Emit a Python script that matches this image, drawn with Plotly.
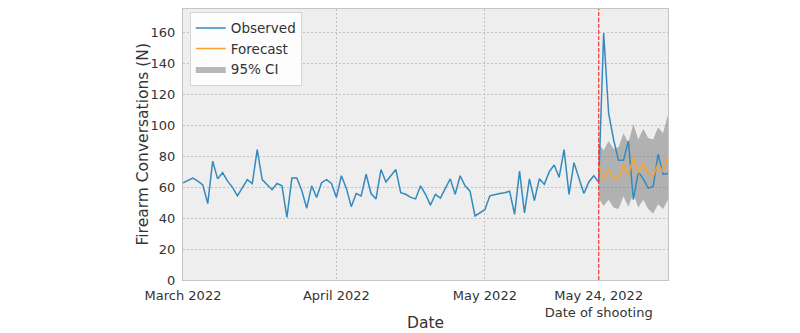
import pandas as pd
import plotly.graph_objects as go

# Daily firearm-related conversation counts, 1 March - 7 June 2022
start_date = "2022-03-01"
observed = [
    63, 64.5, 66, 64, 61.5, 49.5, 77, 65.5, 69.5, 64,
    60, 54.5, 59.5, 65, 62.5, 84.5, 65, 61.5, 58.5, 62.5,
    61, 40.5, 66, 66, 58, 46.5, 61, 53.5, 63, 65,
    62.5, 53.5, 67.5, 59.5, 47.5, 56, 54.5, 68.5, 56, 52.5,
    71.5, 63.5, 67.5, 71.5, 56.5, 55.5, 53.5, 52.5, 61, 55.5,
    48.5, 55.5, 53, 59.5, 65.5, 55.5, 67.5, 61, 57.5, 41.5,
    43.5, 45.5, 54.5, 55.5, 56, 56.5, 57.5, 42.5, 70.5, 43.5,
    65.5, 51.5, 65.5, 62, 70, 74.5, 66.5, 84.5, 55.5, 76,
    66, 56, 63.5, 67.5, 63.5, 160, 108, 91, 77.5, 77.5,
    90, 52, 70, 65.5, 59.5, 60.5, 81.5, 68.5, 69,
]

# Counterfactual forecast from the shooting date onward, with 95% interval
forecast_start = "2022-05-24"
forecast = [74, 65.5, 71, 66, 65.5, 75, 68, 79.5, 69, 75.5, 69, 67, 75.3, 70, 80.5]
ci_lower = [53, 48, 52, 47, 46, 54, 47.5, 56, 47, 52, 46, 43, 49, 46, 52]
ci_upper = [88, 84, 90, 85, 86, 95, 89, 101, 91, 98, 92, 91, 99, 95, 107]

tick_dates = ["2022-03-01", "2022-04-01", "2022-05-01", "2022-05-24"]
tick_labels = ["March 2022", "April 2022", "May 2022", "May 24, 2022<br>Date of shooting"]
y_ticks = [0, 20, 40, 60, 80, 100, 120, 140, 160]

obs_dates = pd.date_range(start_date, periods=len(observed), freq="D")
fc_dates = pd.date_range(forecast_start, periods=len(forecast), freq="D")

BLUE = "#348ABD"
ORANGE = "#f9a231"
FONT = "DejaVu Sans"
GRID = dict(showgrid=True, gridcolor="#c2c2c2", gridwidth=0.7, griddash="2px,2px")
FRAME = dict(showline=True, linecolor="#c4c4c4", linewidth=1.3, mirror=True, zeroline=False)

fig = go.Figure()

# 95% interval band
fig.add_trace(go.Scatter(
    x=fc_dates, y=ci_lower, mode="lines", line=dict(width=0, color="rgba(0,0,0,0)"),
    showlegend=False, hoverinfo="skip",
))
fig.add_trace(go.Scatter(
    x=fc_dates, y=ci_upper, mode="lines", line=dict(width=0, color="rgba(0,0,0,0)"),
    fill="tonexty", fillcolor="rgba(128,128,128,0.55)", name="95% CI", legendrank=3,
))
fig.add_trace(go.Scatter(
    x=obs_dates, y=observed, mode="lines", line=dict(color=BLUE, width=1.5),
    name="Observed", legendrank=1,
))
fig.add_trace(go.Scatter(
    x=fc_dates, y=forecast, mode="lines", line=dict(color=ORANGE, width=1.5),
    name="Forecast", legendrank=2,
))

# Date of the shooting
fig.add_shape(
    type="line", xref="x", yref="paper", x0=forecast_start, x1=forecast_start, y0=0, y1=1,
    line=dict(color="#ff3333", width=1.2, dash="4px,2px"),
)

fig.update_layout(
    width=800, height=333,
    margin=dict(l=183, r=132, t=9, b=53),
    paper_bgcolor="white",
    plot_bgcolor="#eeeeee",
    font=dict(family=FONT, size=13, color="#333333"),
    showlegend=True,
    legend=dict(
        x=0.014, y=0.99, xanchor="left", yanchor="top",
        traceorder="normal",
        bgcolor="rgba(255,255,255,0.85)", bordercolor="#d4d4d4", borderwidth=1,
        font=dict(family=FONT, size=13.5, color="#333333"),
        itemwidth=30, tracegroupgap=0,
    ),
    annotations=[
        dict(text="Firearm Conversations (N)", xref="paper", yref="paper",
             x=-(183 - 142) / 485, y=0.5, xanchor="center", yanchor="middle",
             textangle=-90, showarrow=False, font=dict(family=FONT, size=15.5, color="#333333")),
        dict(text="Date", xref="paper", yref="paper",
             x=0.5, y=-(323 - 280) / 271, xanchor="center", yanchor="middle",
             showarrow=False, font=dict(family=FONT, size=15.5, color="#333333")),
    ],
)

fig.update_xaxes(
    type="date",
    range=["2022-03-01", "2022-06-07"],
    tickvals=tick_dates, ticktext=tick_labels,
    ticks="", ticklabelstandoff=3,
    tickfont=dict(family=FONT, size=13, color="#333333"),
    **GRID, **FRAME,
)
fig.update_yaxes(
    range=[0, 175.5],
    tickvals=y_ticks,
    ticks="", ticklabelstandoff=4,
    tickfont=dict(family=FONT, size=13, color="#333333"),
    **GRID, **FRAME,
)

fig.write_html("out.html")
